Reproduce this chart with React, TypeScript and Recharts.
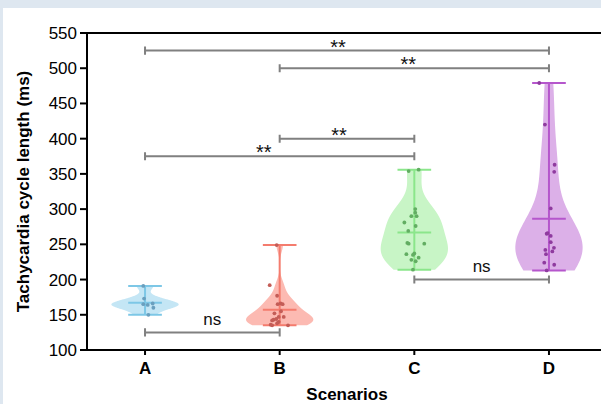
import React from 'react';
import { ComposedChart, Scatter, XAxis, YAxis, ReferenceLine } from 'recharts';

const categories = ['A', 'B', 'C', 'D'];
const yTicks = [100, 150, 200, 250, 300, 350, 400, 450, 500, 550];

// cycle lengths (ms)
const valuesA = [191, 173, 165, 164, 166, 160, 150];
const valuesB = [249, 192, 177, 165, 166, 165, 155, 152, 147, 147, 144, 143, 142, 140, 138, 136, 135, 135];
const valuesC = [354, 356, 300, 295, 290, 290, 281, 276, 269, 252, 251, 251, 236, 237, 235, 231, 228, 226, 214];
const valuesD = [479, 420, 363, 353, 301, 265, 266, 262, 253, 245, 240, 242, 236, 224, 221, 213];

// horizontal jitter of the dots, in category units
const jitterA = [-0.013, -0.007, -0.013, 0.02, 0.057, 0.062, 0.025];
const jitterB = [-0.022, -0.074, -0.019, -0.015, 0.007, 0.022, 0.01, -0.039, -0.007, 0.03, -0.025, -0.045, -0.056, -0.007, -0.019, -0.067, -0.056, 0.062];
const jitterC = [-0.042, 0.032, 0.007, 0.007, -0.022, 0.017, -0.074, 0.01, -0.045, -0.052, -0.042, 0.074, -0.059, 0, -0.01, 0.032, -0.022, 0.01, -0.01];
const jitterD = [-0.072, -0.03, 0.042, 0.039, 0.013, -0.017, -0.01, 0.013, 0.013, 0.037, 0.025, -0.027, -0.022, -0.035, 0.039, -0.017];

// kernel bandwidth (ms) used for each violin
const bandwidths = [6, 10, 22, 38];

const brackets = [
  { from: 1, to: 4, y: 525, text: '**' },
  { from: 2, to: 4, y: 500, text: '**' },
  { from: 2, to: 3, y: 400, text: '**' },
  { from: 1, to: 3, y: 375, text: '**' },
  { from: 1, to: 2, y: 125, text: 'ns' },
  { from: 3, to: 4, y: 200, text: 'ns' },
];
const labelNudge = [-9, -6, -8, -16, 0, 0];

const groups = [valuesA, valuesB, valuesC, valuesD];
const jitters = [jitterA, jitterB, jitterC, jitterD];

const fills = ['#c4e6f5', '#fcbab2', '#c8f5c6', '#dcb0e8'];
const strokes = ['#7dc7e6', '#f47c6e', '#8be68b', '#b556cc'];
const dotColors = ['#6a9fbe', '#c45d57', '#62ad62', '#8f3b9f'];

const HALF_WIDTH = 0.25;
const CAP = 0.125;
const BRACKET_CAP = 5.7;

function violinOutline(values: number[], h: number, center: number) {
  const lo = Math.min(...values);
  const hi = Math.max(...values);
  const steps = 80;
  const dens: { y: number; d: number }[] = [];
  for (let i = 0; i <= steps; i++) {
    const y = lo + ((hi - lo) * i) / steps;
    let d = 0;
    for (const v of values) d += Math.exp(-((y - v) ** 2) / (2 * h * h));
    dens.push({ y, d });
  }
  const max = Math.max(...dens.map((p) => p.d));
  const left = dens.map((p) => ({ x: center - (HALF_WIDTH * p.d) / max, y: p.y }));
  const right = dens
    .slice()
    .reverse()
    .map((p) => ({ x: center + (HALF_WIDTH * p.d) / max, y: p.y }));
  return [...left, ...right];
}

function errorBar(values: number[], center: number) {
  const lo = Math.min(...values);
  const hi = Math.max(...values);
  const mean = values.reduce((a, b) => a + b, 0) / values.length;
  return [
    { x: center - CAP, y: hi }, { x: center + CAP, y: hi },
    { x: center - CAP, y: mean }, { x: center + CAP, y: mean },
    { x: center - CAP, y: lo }, { x: center + CAP, y: lo },
    { x: center, y: lo }, { x: center, y: hi },
  ];
}

const bracketSegments = brackets.flatMap((b) => [
  { x: b.from, y: b.y }, { x: b.to, y: b.y },
  { x: b.from, y: b.y - BRACKET_CAP }, { x: b.from, y: b.y + BRACKET_CAP },
  { x: b.to, y: b.y - BRACKET_CAP }, { x: b.to, y: b.y + BRACKET_CAP },
]);

const bracketLabels = brackets.map((b, i) => ({
  x: (b.from + b.to) / 2,
  y: b.y,
  text: b.text,
  nudge: labelNudge[i],
}));

const pairLine = (color: string, width: number) => (props: any) => {
  const pts = props.points || [];
  let d = '';
  for (let i = 0; i + 1 < pts.length; i += 2) {
    d += `M${pts[i].x},${pts[i].y}L${pts[i + 1].x},${pts[i + 1].y}`;
  }
  return <path d={d} stroke={color} strokeWidth={width} fill="none" />;
};

const hidden = () => <g />;

export default function App() {
  return (
    <div
      style={{
        position: 'fixed',
        left: 0,
        top: 0,
        width: 601,
        height: 404,
        overflow: 'hidden',
        background: '#dee7f0',
        fontFamily: '"Liberation Sans", Arial, sans-serif',
      }}
    >
      <div style={{ position: 'absolute', left: 3, top: 8, right: 0, bottom: 0, background: '#fff' }} />
      <div style={{ position: 'absolute', left: 0, top: 0 }}>
        <ComposedChart width={620} height={404} margin={{ top: 33, right: 13, bottom: 0, left: 0 }}>
          <XAxis
            type="number"
            dataKey="x"
            domain={[0.569, 4.431]}
            allowDataOverflow
            ticks={[1, 2, 3, 4]}
            tickFormatter={(v: number) => categories[v - 1]}
            height={54}
            axisLine={{ stroke: '#000', strokeWidth: 2 }}
            tickLine={{ stroke: '#000', strokeWidth: 2 }}
            tickSize={5}
            tickMargin={7}
            tick={{ fill: '#000', fontSize: 17, fontWeight: 700 }}
            label={{
              value: 'Scenarios',
              position: 'insideBottom',
              offset: 4,
              style: { fill: '#000', fontSize: 17, fontWeight: 700 },
            }}
          />
          <YAxis
            type="number"
            dataKey="y"
            domain={[100, 550]}
            allowDataOverflow
            ticks={yTicks}
            width={87}
            axisLine={{ stroke: '#000', strokeWidth: 2 }}
            tickLine={{ stroke: '#000', strokeWidth: 2 }}
            tickSize={7}
            tickMargin={3}
            tick={{ fill: '#000', fontSize: 17 }}
            label={{
              value: 'Tachycardia cycle length (ms)',
              angle: -90,
              position: 'insideLeft',
              offset: 23,
              style: { fill: '#000', fontSize: 17, fontWeight: 700, textAnchor: 'middle' },
            }}
          />
          <ReferenceLine y={550} stroke="#000" strokeWidth={2} />

          {groups.map((vals, i) => (
            <Scatter
              key={`violin-${i}`}
              data={violinOutline(vals, bandwidths[i], i + 1)}
              line={{ fill: fills[i], stroke: 'none', strokeWidth: 0 }}
              shape={hidden}
              isAnimationActive={false}
            />
          ))}

          {groups.map((vals, i) => (
            <Scatter
              key={`err-${i}`}
              data={errorBar(vals, i + 1)}
              line={pairLine(strokes[i], 2)}
              shape={hidden}
              isAnimationActive={false}
            />
          ))}

          {groups.map((vals, i) => (
            <Scatter
              key={`dots-${i}`}
              data={vals.map((v, j) => ({ x: i + 1 + jitters[i][j], y: v }))}
              shape={(p: any) => <circle cx={p.cx} cy={p.cy} r={1.9} fill={dotColors[i]} />}
              isAnimationActive={false}
            />
          ))}

          <Scatter
            data={bracketSegments}
            line={pairLine('#808080', 2)}
            shape={hidden}
            isAnimationActive={false}
          />
          <Scatter
            data={bracketLabels}
            isAnimationActive={false}
            shape={(p: any) => {
              const stars = p.payload.text === '**';
              return (
                <text
                  x={p.cx + p.payload.nudge}
                  y={p.cy + (stars ? 3 : -7.5)}
                  textAnchor="middle"
                  fontSize={stars ? 20 : 17}
                  fill="#111"
                >
                  {p.payload.text}
                </text>
              );
            }}
          />
        </ComposedChart>
      </div>
    </div>
  );
}
